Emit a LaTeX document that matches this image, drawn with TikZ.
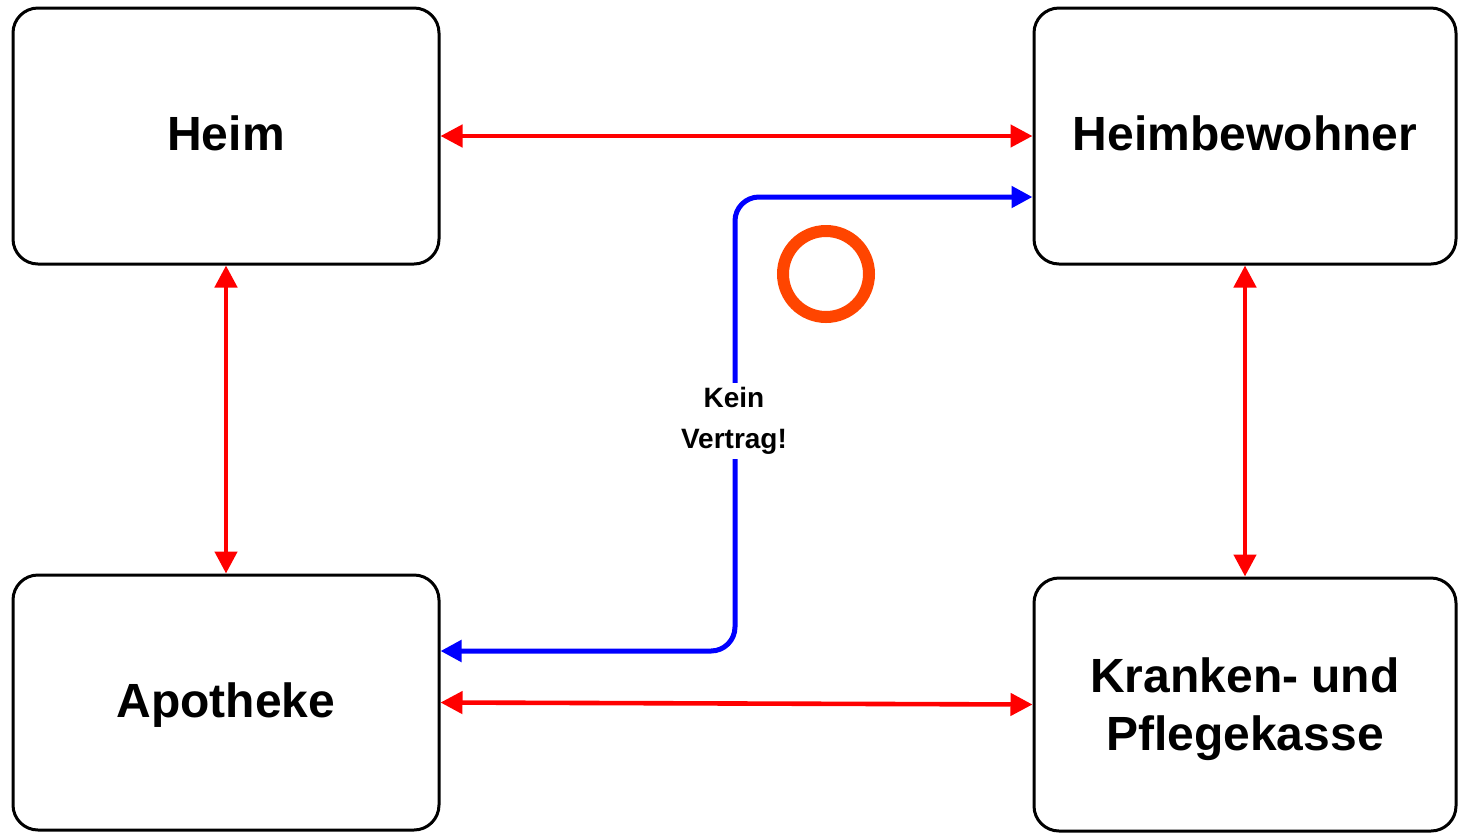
\documentclass[tikz,border=0pt]{standalone}
\usepackage{fontspec}
\setmainfont{Liberation Sans}
\usetikzlibrary{arrows.meta}
\definecolor{ringorange}{RGB}{255,69,0}
\tikzset{
  party/.style={draw=black, line width=1.5pt, rounded corners=12.5pt, fill=white,
    align=center, inner sep=0pt, font=\fontsize{24}{29}\selectfont\bfseries},
  contract/.style={draw=red, line width=2.3pt, {Triangle[length=11pt,width=11pt]}-{Triangle[length=11pt,width=11pt]}},
  nocontract/.style={draw=blue, line width=2.5pt, rounded corners=12pt,
    {Triangle[length=10.5pt,width=10.5pt]}-{Triangle[length=10.5pt,width=10.5pt]}},
  remark/.style={fill=white, align=center, inner sep=2pt,
    font=\fontsize{14}{20.5}\selectfont\bfseries},
  ring/.style={circle, draw=ringorange, line width=6pt, minimum size=43pt, inner sep=0pt}
}
\begin{document}
\begin{tikzpicture}[x=0.5pt, y=-0.5pt]
\useasboundingbox (0,0) rectangle (1458,832);

% the four parties
\node[party, minimum width=213pt, minimum height=128pt, text depth=3pt] (heim) at (226,136) {Heim};
\node[party, minimum width=211pt, minimum height=128pt, text depth=3pt] (bew) at (1245,136) {Heimbewohner};
\node[party, minimum width=213pt, minimum height=127.5pt, text depth=2pt] (apo) at (226,702.5) {Apotheke};
\node[party, minimum width=211pt, minimum height=126.5pt, text depth=0pt] (kasse) at (1245,704.5) {Kranken- und\\Pflegekasse};

% contractual relations
\draw[contract] (heim.east) -- (bew.west);
\draw[contract] (heim.south) -- (apo.north);
\draw[contract] (bew.south) -- (kasse.north);
\draw[contract] (apo.east) -- (kasse.west);

% pharmacy and resident: no contract
\coordinate (turn) at (735,197);
\draw[nocontract] ([yshift=25.75pt]apo.east) -| (turn) -- (turn -| bew.west);
\node[remark] (kv) at (734,421) {Kein\\Vertrag!};

\node[ring] (mark) at (826,274) {};
\end{tikzpicture}
\end{document}
